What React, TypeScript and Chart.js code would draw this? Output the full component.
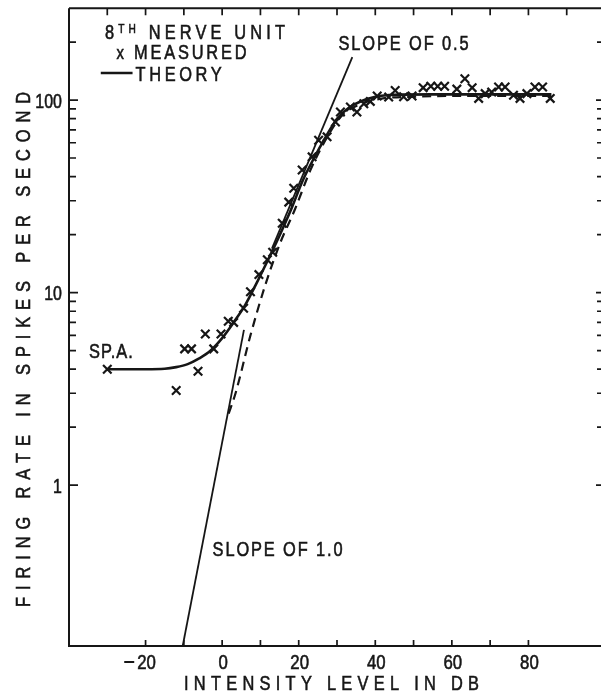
import React, { useEffect, useRef } from 'react';
import { Chart, registerables } from 'chart.js';

Chart.register(...registerables);

const INK = '#161616';
const FONT = '"Liberation Sans", Arial, Helvetica, sans-serif';

// ---- data (intensity level in dB, firing rate in spikes/s) ----
const measuredDb = [-30, -12, -9.8, -8, -6.3, -4.4, -2.2, -0.3, 1.6, 3, 5.6, 7.4, 9.6, 11.8, 13.2, 15.7, 17.4, 18.7, 20.9, 23.5, 25.2, 27.4, 29.6, 30.9, 33.5, 35.2, 37, 38.7, 40.5, 43.5, 45.2, 47.4, 49.6, 52.5, 54.5, 56.3, 58.1, 61.3, 63.4, 65.3, 67, 68.7, 70.4, 72.2, 73.9, 76.1, 77.8, 79.6, 81.7, 83.7, 85.7];
const measuredRate = [4.0, 3.1, 5.1, 5.1, 3.9, 6.1, 5.1, 6.1, 7.1, 7.0, 8.3, 10.1, 12.4, 14.8, 16.2, 22.9, 29.5, 34.8, 43.3, 50.7, 61.8, 64.4, 77, 86.7, 92, 86.7, 95.7, 98.4, 105, 103.6, 112, 104, 105, 116, 118, 118, 118, 114, 129, 116, 102, 108, 110, 117, 117, 106, 102, 108, 117, 117, 102];

const theoryDb = [-30, -20, -15, -12, -9, -6, -3, 0, 3, 6, 9, 12, 15, 18, 21, 24, 27, 30, 33, 36, 40, 45, 55, 70, 86];
const theoryRate = [4.0, 4.0, 4.02, 4.1, 4.25, 4.55, 5.0, 5.8, 7.0, 8.6, 11.2, 14.8, 19.8, 27, 38, 50, 64, 80, 91, 98, 104, 106.5, 107, 107, 107];

const noSpontDb = [1.7, 3.5, 7.4, 11.3, 15.3, 19, 23, 27, 31, 36, 42, 50, 60, 70, 86];
const noSpontRate = [2.35, 3.0, 6.0, 11, 18.4, 27, 43, 62, 82, 95, 102, 104, 105, 105, 105];

const slopeHalfDb = [13, 34];
const slopeHalfRate = [16.9, 167];

const slopeOneDb = [-10.3, 5.7];
const slopeOneRate = [0.146, 6.4];

// ---- axes ----
const xMin = -40;
const xMax = 100;
const yMin = 0.146;
const yMax = 300;
const xTickLabels = [-20, 0, 20, 40, 60, 80];
const xTopTicks = [-30, -20, -10, 0, 10, 20, 30, 40, 50, 60, 70, 80, 90];
const xBottomTicks = [-20, -10, 0, 10, 20, 30, 40, 50, 60, 70, 80];
const yTickLabels = [1, 10, 100];
const yMinorTicks = [2, 3, 4, 5, 6, 7, 8, 9, 20, 30, 40, 50, 60, 70, 80, 90, 200];

type Part = { t: string; size: number; dy?: number };

const TXT = 21;
const SX = 0.78;

function drawSpaced(ctx: CanvasRenderingContext2D, parts: Part[], left: number, cy: number, width: number, sx = SX) {
  let natural = 0;
  let n = 0;
  for (const p of parts) {
    ctx.font = `${p.size}px ${FONT}`;
    (ctx as any).letterSpacing = '0px';
    natural += ctx.measureText(p.t).width * sx;
    n += [...p.t].length;
  }
  const ls = n > 1 ? (width - natural) / (n - 1) : 0;
  let x = left;
  const base = cy + parts[0].size * 0.358;
  for (const p of parts) {
    ctx.font = `${p.size}px ${FONT}`;
    (ctx as any).letterSpacing = '0px';
    const w = ctx.measureText(p.t).width * sx;
    ctx.save();
    ctx.translate(x, base + (p.dy || 0));
    ctx.scale(sx, 1);
    (ctx as any).letterSpacing = `${ls / sx}px`;
    ctx.textAlign = 'left';
    ctx.textBaseline = 'alphabetic';
    ctx.lineWidth = 0.6;
    ctx.fillText(p.t, 0, 0);
    ctx.strokeText(p.t, 0, 0);
    ctx.restore();
    x += w + ls * [...p.t].length;
  }
}

function drawNum(ctx: CanvasRenderingContext2D, text: string, x: number, cy: number, align: 'center' | 'right', size: number, sx = 0.8) {
  ctx.save();
  ctx.font = `${size}px ${FONT}`;
  (ctx as any).letterSpacing = '0px';
  ctx.translate(x, cy + size * 0.358);
  ctx.scale(sx, 1);
  ctx.textAlign = align;
  ctx.textBaseline = 'alphabetic';
  ctx.lineWidth = 0.6;
  ctx.fillText(text, 0, 0);
  ctx.strokeText(text, 0, 0);
  ctx.restore();
}

const deco = {
  id: 'deco',
  afterDraw(chart: any) {
    const { ctx, chartArea: a } = chart;
    const xs = chart.scales.x;
    const ys = chart.scales.y;
    const px = (v: number) => xs.getPixelForValue(v);
    const py = (v: number) => ys.getPixelForValue(v);
    ctx.save();
    ctx.strokeStyle = INK;
    ctx.fillStyle = INK;

    // frame
    ctx.lineWidth = 2;
    ctx.beginPath();
    ctx.moveTo(a.left, a.top); ctx.lineTo(a.right, a.top);
    ctx.moveTo(a.left, a.top); ctx.lineTo(a.left, a.bottom);
    ctx.moveTo(a.left - 1, a.bottom); ctx.lineTo(a.right, a.bottom);
    ctx.moveTo(a.right, a.top); ctx.lineTo(a.right, a.bottom);
    ctx.stroke();

    // inward ticks
    ctx.lineWidth = 1.7;
    ctx.beginPath();
    for (const v of xTopTicks) { const x = px(v); ctx.moveTo(x, a.top); ctx.lineTo(x, a.top + 7); }
    for (const v of xBottomTicks) { const x = px(v); ctx.moveTo(x, a.bottom); ctx.lineTo(x, a.bottom - 6); }
    for (const v of yTickLabels) {
      const y = py(v);
      ctx.moveTo(a.left, y); ctx.lineTo(a.left + 9, y);
      ctx.moveTo(a.right, y); ctx.lineTo(a.right - 9, y);
    }
    for (const v of yMinorTicks) {
      const y = py(v);
      ctx.moveTo(a.left, y); ctx.lineTo(a.left + 7, y);
      ctx.moveTo(a.right, y); ctx.lineTo(a.right - 8, y);
    }
    ctx.stroke();

    // tick labels
    const tickSize = 21;
    for (const v of xTickLabels) {
      const x = px(v);
      const digits = String(Math.abs(v));
      drawNum(ctx, digits, x + 1, a.bottom + 15, 'center', tickSize);
      if (v < 0) {
        ctx.font = `${tickSize}px ${FONT}`;
        const w = ctx.measureText(digits).width * 0.8;
        ctx.fillRect(x + 1 - w / 2 - 13, a.bottom + 15, 10, 2);
      }
    }
    for (const v of yTickLabels) {
      drawNum(ctx, String(v), a.left - 7, py(v), 'right', tickSize, 0.76);
    }

    // axis titles
    drawSpaced(ctx, [{ t: 'INTENSITY LEVEL IN DB', size: TXT }], 184, a.bottom + 36, 295);
    ctx.save();
    ctx.translate(22, 350);
    ctx.rotate(-Math.PI / 2);
    drawSpaced(ctx, [{ t: 'FIRING RATE IN SPIKES PER SECOND', size: TXT }], -257, 0, 515);
    ctx.restore();

    // legend
    drawSpaced(ctx, [{ t: '8', size: TXT }, { t: 'TH', size: 13, dy: -6 }, { t: ' NERVE UNIT', size: TXT }], px(-30.6), 31, 180);
    drawSpaced(ctx, [{ t: 'x', size: 19 }, { t: ' MEASURED', size: TXT }], px(-27.6), 52, 130);
    ctx.lineWidth = 2.6;
    ctx.beginPath();
    ctx.moveTo(px(-31.7), 73); ctx.lineTo(px(-23.4), 73);
    ctx.stroke();
    drawSpaced(ctx, [{ t: 'THEORY', size: TXT }], px(-22.6), 73, 86);

    // annotations
    drawSpaced(ctx, [{ t: 'SLOPE OF 0.5', size: TXT }], px(30.4), 42, 130);
    drawSpaced(ctx, [{ t: 'SLOPE OF 1.0', size: TXT }], px(-2.5), py(0.47), 130);
    drawSpaced(ctx, [{ t: 'SP.A.', size: TXT }], px(-34.8), py(5.0), 44);

    ctx.restore();
  },
};

const pts = (xs: number[], ys: number[]) => xs.map((x, i) => ({ x, y: ys[i] }));

export default function App() {
  const ref = useRef<HTMLCanvasElement>(null);
  useEffect(() => {
    const canvas = ref.current;
    if (!canvas) return;
    const chart = new Chart(canvas, {
      type: 'line',
      data: {
        datasets: [
          { label: 'Theory', data: pts(theoryDb, theoryRate), borderColor: INK, borderWidth: 2.6, pointRadius: 0, cubicInterpolationMode: 'monotone', fill: false } as any,
          { label: 'Theory (no spontaneous)', data: pts(noSpontDb, noSpontRate), borderColor: INK, borderWidth: 2.2, borderDash: [9, 6], pointRadius: 0, cubicInterpolationMode: 'monotone', fill: false } as any,
          { label: 'Slope of 0.5', data: pts(slopeHalfDb, slopeHalfRate), borderColor: INK, borderWidth: 1.8, pointRadius: 0, tension: 0, fill: false } as any,
          { label: 'Slope of 1.0', data: pts(slopeOneDb, slopeOneRate), borderColor: INK, borderWidth: 1.8, pointRadius: 0, tension: 0, fill: false } as any,
          { label: 'Measured', data: pts(measuredDb, measuredRate), showLine: false, pointStyle: 'crossRot', pointRadius: 6, pointBorderWidth: 2.2, borderColor: INK, backgroundColor: INK } as any,
        ],
      },
      options: {
        responsive: false,
        animation: false,
        devicePixelRatio: 1,
        layout: { padding: { top: 5, right: 15, left: 0, bottom: 0 } },
        plugins: { legend: { display: false }, tooltip: { enabled: false } },
        scales: {
          x: {
            type: 'linear', min: xMin, max: xMax,
            grid: { display: false }, border: { display: false }, ticks: { display: false },
            afterFit: (s: any) => { s.height = 50; },
          },
          y: {
            type: 'logarithmic', min: yMin, max: yMax,
            grid: { display: false }, border: { display: false }, ticks: { display: false },
            afterFit: (s: any) => { s.width = 69; },
          },
        },
      } as any,
      plugins: [deco],
    });
    return () => chart.destroy();
  }, []);
  return (
    <div style={{ position: 'fixed', left: 0, top: 0, width: 601, height: 696, overflow: 'hidden', background: '#fff' }}>
      <canvas ref={ref} width={620} height={696} style={{ display: 'block' }} />
    </div>
  );
}
